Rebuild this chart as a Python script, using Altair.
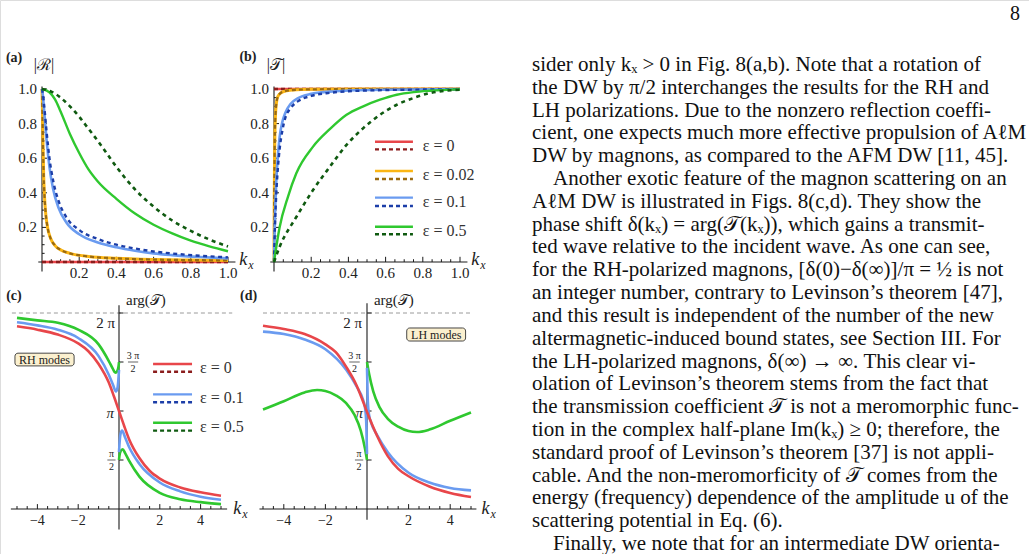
import altair as alt
import pandas as pd

SERIF = "Liberation Serif"

# ---------------- colours ----------------
RED, DRED = "#e8464a", "#8b1d1d"
YEL, BRN = "#fbb615", "#9a6a10"
BLU, DBLU = "#6a9bf0", "#1c3ea8"
GRN, DGRN = "#2fc82f", "#0f5a10"

# ---------------- panel (a): |R| ----------------
A_RED_K = [0.0, 1.0]
A_RED_V = [0.0, 0.0]
A_YEL_K = [0, 0.002, 0.005, 0.009, 0.014, 0.02, 0.03, 0.045, 0.07, 0.1, 0.15, 0.25, 0.4, 0.6, 0.8, 1.0]
A_YEL_V = [1.0, 0.9, 0.7, 0.5, 0.37, 0.28, 0.2, 0.14, 0.095, 0.07, 0.05, 0.032, 0.021, 0.014, 0.011, 0.009]
A_BLU_K = [0, 0.005, 0.012, 0.025, 0.04, 0.06, 0.09, 0.13, 0.2, 0.3, 0.4, 0.5, 0.6, 0.7, 0.85, 1.0]
A_BLU_V = [1.0, 0.96, 0.87, 0.7, 0.55, 0.42, 0.31, 0.23, 0.16, 0.113, 0.085, 0.065, 0.05, 0.04, 0.029, 0.021]
A_DBLU_V = [1.0, 0.97, 0.9, 0.75, 0.6, 0.47, 0.35, 0.26, 0.185, 0.133, 0.1, 0.078, 0.061, 0.049, 0.036, 0.027]
A_GRN_K = [0, 0.04, 0.07, 0.1, 0.15, 0.2, 0.25, 0.3, 0.4, 0.5, 0.6, 0.7, 0.8, 0.9, 1.0]
A_GRN_V = [1.0, 0.98, 0.94, 0.87, 0.74, 0.63, 0.535, 0.465, 0.365, 0.28, 0.215, 0.165, 0.123, 0.09, 0.062]
A_DGRN_K = [0, 0.05, 0.1, 0.15, 0.2, 0.25, 0.3, 0.35, 0.4, 0.5, 0.6, 0.7, 0.8, 0.9, 1.0]
A_DGRN_V = [1.0, 0.985, 0.95, 0.9, 0.84, 0.77, 0.7, 0.625, 0.55, 0.42, 0.32, 0.24, 0.18, 0.13, 0.09]

# ---------------- panel (b): |T| ----------------
B_RED_K = [0.0, 1.0]
B_RED_V = [1.0, 1.0]
B_YEL_K = [0, 0.001, 0.003, 0.005, 0.008, 0.012, 0.02, 0.035, 0.06, 0.1, 0.2, 0.5, 1.0]
B_YEL_V = [0, 0.3, 0.6, 0.75, 0.85, 0.91, 0.955, 0.976, 0.988, 0.994, 0.998, 1.0, 1.0]
B_BLU_K = [0, 0.005, 0.0125, 0.02, 0.03, 0.045, 0.06, 0.09, 0.13, 0.2, 0.3, 0.4, 0.6, 1.0]
B_BLU_V = [0, 0.25, 0.47, 0.6, 0.72, 0.81, 0.86, 0.915, 0.948, 0.972, 0.985, 0.991, 0.996, 0.999]
B_DBLU_V = [0, 0.2, 0.4, 0.53, 0.65, 0.76, 0.83, 0.89, 0.93, 0.96, 0.978, 0.987, 0.994, 0.998]
B_GRN_K = [0, 0.03, 0.075, 0.12, 0.21, 0.3, 0.39, 0.48, 0.57, 0.66, 0.75, 0.84, 1.0]
B_GRN_V = [0, 0.2, 0.377, 0.513, 0.667, 0.768, 0.851, 0.9, 0.938, 0.967, 0.982, 0.99, 0.998]
B_DGRN_K = [0, 0.03, 0.12, 0.21, 0.3, 0.39, 0.48, 0.57, 0.66, 0.75, 0.84, 1.0]
B_DGRN_V = [0, 0.087, 0.26, 0.416, 0.55, 0.677, 0.774, 0.851, 0.909, 0.948, 0.977, 0.996]

# ---------------- panel (c): arg(T), RH modes (units of pi) ----------------
C_RED_K = [-5, -4, -3, -2, -1.5, -1, -0.5, -0.25, 0, 0.25, 0.5, 1, 1.5, 2, 3, 4, 5]
C_RED_V = [1.864, 1.83, 1.78, 1.69, 1.61, 1.48, 1.29, 1.15, 1.0, 0.85, 0.71, 0.52, 0.39, 0.31, 0.22, 0.17, 0.136]
C_BLU_LK = [-5, -4, -3, -2, -1, -0.5, -0.3, -0.15, -0.07, -0.02, 0]
C_BLU_LV = [1.905, 1.874, 1.83, 1.745, 1.56, 1.37, 1.27, 1.2, 1.24, 1.35, 1.42]
C_BLU_RK = [0, 0.02, 0.07, 0.15, 0.3, 0.5, 1, 2, 3, 4, 5]
C_BLU_RV = [0.58, 0.65, 0.76, 0.8, 0.73, 0.63, 0.46, 0.27, 0.18, 0.126, 0.095]
C_GRN_LK = [-5, -4, -3, -2, -1, -0.5, -0.3, -0.18, -0.08, -0.02, 0]
C_GRN_LV = [1.95, 1.925, 1.9, 1.83, 1.68, 1.51, 1.43, 1.39, 1.41, 1.46, 1.5]
C_GRN_RK = [0, 0.02, 0.08, 0.18, 0.3, 0.5, 1, 2, 3, 4, 5]
C_GRN_RV = [0.5, 0.54, 0.59, 0.61, 0.57, 0.49, 0.33, 0.165, 0.1, 0.07, 0.05]

# ---------------- panel (d): arg(T), LH modes (units of pi) ----------------
D_RED_K = [-5, -4, -3, -2, -1.5, -1, -0.5, -0.25, 0, 0.25, 0.5, 1, 1.5, 2, 3, 4, 5]
D_RED_V = [1.87, 1.836, 1.785, 1.68, 1.6, 1.45, 1.26, 1.13, 0.99, 0.86, 0.74, 0.54, 0.41, 0.334, 0.23, 0.164, 0.123]
D_BLU_LK = [-5, -4, -3, -2, -1, -0.5, -0.2, -0.1, -0.04, -0.015, 0]
D_BLU_LV = [1.81, 1.785, 1.73, 1.63, 1.42, 1.25, 1.12, 1.04, 0.9, 0.7, 0.56]
D_BLU_RK = [0, 0.015, 0.04, 0.1, 0.2, 0.5, 1, 2, 3, 4, 5]
D_BLU_RV = [1.44, 1.3, 1.1, 0.96, 0.88, 0.75, 0.58, 0.37, 0.27, 0.215, 0.19]
D_GRN_LK = [-5, -4, -3, -2.4, -2, -1.5, -1, -0.6, -0.3, -0.1, 0]
D_GRN_LV = [1.015, 1.1, 1.19, 1.215, 1.205, 1.16, 1.08, 0.96, 0.8, 0.62, 0.5]
D_GRN_RK = [0, 0.1, 0.3, 0.6, 1, 1.5, 2, 2.4, 3, 4, 5]
D_GRN_RV = [1.5, 1.38, 1.2, 1.04, 0.92, 0.84, 0.795, 0.785, 0.81, 0.9, 0.985]

# ---------------- ticks & labels ----------------
AB_TICKS = [0.2, 0.4, 0.6, 0.8, 1.0]
AB_TICK_LABELS = ["0.2", "0.4", "0.6", "0.8", "1.0"]
AB_MINOR = [0.05, 0.1, 0.15, 0.25, 0.3, 0.35, 0.45, 0.5, 0.55, 0.65, 0.7, 0.75, 0.85, 0.9, 0.95]
CD_X_TICKS = [-4, -2, 2, 4]
CD_X_LABELS = ["\u22124", "\u22122", "2", "4"]
CD_X_MINOR = [-5, -4.5, -3.5, -3, -2.5, -1.5, -1, -0.5, 0.5, 1, 1.5, 2.5, 3, 3.5, 4.5, 5]
CD_Y_TICKS = [0.5, 1.0, 1.5, 2.0]

LEG_AB = ["\u03b5 = 0", "\u03b5 = 0.02", "\u03b5 = 0.1", "\u03b5 = 0.5"]
LEG_CD = ["\u03b5 = 0", "\u03b5 = 0.1", "\u03b5 = 0.5"]

BODY_LINES = [
    "sider only k\u2093 > 0 in Fig. 8(a,b). Note that a rotation of",
    "the DW by \u03c0/2 interchanges the results for the RH and",
    "LH polarizations. Due to the nonzero reflection coeffi-",
    "cient, one expects much more effective propulsion of A\u2113M",
    "DW by magnons, as compared to the AFM DW [11, 45].",
    "Another exotic feature of the magnon scattering on an",
    "A\u2113M DW is illustrated in Figs. 8(c,d). They show the",
    "phase shift \u03b4(k\u2093) = arg(\U0001D4AF(k\u2093)), which gains a transmit-",
    "ted wave relative to the incident wave. As one can see,",
    "for the RH-polarized magnons, [\u03b4(0)\u2212\u03b4(\u221e)]/\u03c0 = \u00bd is not",
    "an integer number, contrary to Levinson\u2019s theorem [47],",
    "and this result is independent of the number of the new",
    "altermagnetic-induced bound states, see Section III. For",
    "the LH-polarized magnons, \u03b4(\u221e) \u2192 \u221e. This clear vi-",
    "olation of Levinson\u2019s theorem stems from the fact that",
    "the transmission coefficient \U0001D4AF is not a meromorphic func-",
    "tion in the complex half-plane Im(k\u2093) \u2265 0; therefore, the",
    "standard proof of Levinson\u2019s theorem [37] is not appli-",
    "cable. And the non-meromorficity of \U0001D4AF comes from the",
    "energy (frequency) dependence of the amplitude u of the",
    "scattering potential in Eq. (6).",
    "Finally, we note that for an intermediate DW orienta-",
]
INDENTED = [6, 22]


# ---------------- helpers ----------------
def mk_scale(dom, rng):
    return alt.Scale(domain=dom, range=rng, nice=False, zero=False)


def curve(k, v, xs, ys, color, width=2.4, dash=None):
    df = pd.DataFrame({"k": k, "v": v})
    props = dict(color=color, strokeWidth=width, interpolate="monotone")
    if dash is not None:
        props["strokeDash"] = dash
    return alt.Chart(df).mark_line(**props).encode(
        x=alt.X("k:Q", scale=xs, axis=None),
        y=alt.Y("v:Q", scale=ys, axis=None),
    )


def segs(rows, xs, ys, color="#1a1a1a", width=1.0, dash=None):
    df = pd.DataFrame(rows, columns=["x1", "x2", "y1", "y2"])
    props = dict(color=color, strokeWidth=width)
    if dash is not None:
        props["strokeDash"] = dash
    return alt.Chart(df).mark_rule(**props).encode(
        x=alt.X("x1:Q", scale=xs, axis=None), x2="x2:Q",
        y=alt.Y("y1:Q", scale=ys, axis=None), y2="y2:Q",
    )


def labels(xv, yv, tv, xs, ys, **props):
    df = pd.DataFrame({"x": xv, "y": yv, "t": tv})
    base = dict(font=SERIF, color="#222", baseline="middle", fontSize=15)
    base.update(props)
    return alt.Chart(df).mark_text(**base).encode(
        x=alt.X("x:Q", scale=xs, axis=None),
        y=alt.Y("y:Q", scale=ys, axis=None),
        text="t:N",
    )


def box(x1, x2, y1, y2, xs, ys):
    df = pd.DataFrame({"x1": [x1], "x2": [x2], "y1": [y1], "y2": [y2]})
    return alt.Chart(df).mark_rect(fill="#fbf0cf", stroke="#333", strokeWidth=0.9,
                                   cornerRadius=3).encode(
        x=alt.X("x1:Q", scale=xs, axis=None), x2="x2:Q",
        y=alt.Y("y1:Q", scale=ys, axis=None), y2="y2:Q",
    )


def kx_label(k0, v0, xs, ys, dy=-2):
    return [
        labels([k0], [v0], ["k"], xs, ys, fontStyle="italic", fontSize=18, align="left", dy=dy),
        labels([k0], [v0], ["x"], xs, ys, fontStyle="italic", fontSize=12, align="left", dx=9, dy=dy + 5),
    ]


def ab_frame(xs, ys):
    lay = [
        segs([[-0.02, 1.04, 0, 0], [0, 0, -0.055, 1.015]], xs, ys, width=1.1),
        segs([[t, t, 0, 0.03] for t in AB_TICKS] + [[t, t, 0, 0.016] for t in AB_MINOR], xs, ys),
        segs([[0, 0.027, t, t] for t in AB_TICKS] + [[0, 0.014, t, t] for t in AB_MINOR], xs, ys),
        labels(AB_TICKS, [0] * 5, AB_TICK_LABELS, xs, ys, align="center", dy=11),
        labels([0] * 5, AB_TICKS, AB_TICK_LABELS, xs, ys, align="right", dx=-5),
    ]
    lay += kx_label(1.06, 0, xs, ys)
    return lay


def cd_frame(xs, ys, xlo, xhi, ytop, ybot, dlo, dhi):
    lay = [
        segs([[dlo, dhi, 2.0, 2.0]], xs, ys, color="#9a9a9a", width=1.0, dash=[4, 3]),
        segs([[xlo, xhi, 0, 0], [0, 0, ybot, ytop]], xs, ys, width=1.1),
        segs([[t, t, 0, 0.05] for t in CD_X_TICKS] + [[t, t, 0, 0.03] for t in CD_X_MINOR], xs, ys),
        segs([[0, 0.22, t, t] for t in CD_Y_TICKS], xs, ys),
        labels(CD_X_TICKS, [0] * 4, CD_X_LABELS, xs, ys, align="center", dy=12, fontSize=14),
    ]
    return lay


def fraction(kc, v, num, xs, ys, half=0.25):
    return [
        labels([kc], [v], [num], xs, ys, align="center", fontSize=10, dy=-6),
        labels([kc], [v], ["2"], xs, ys, align="center", fontSize=10, dy=7),
        segs([[kc - half, kc + half, v, v]], xs, ys, color="#222", width=0.7),
    ]


def legend(xs, ys, x1, x2, xl, rows, names, fs=16):
    lay = []
    for (vs, vd, vl, c1, c2), name in zip(rows, names):
        lay.append(segs([[x1, x2, vs, vs]], xs, ys, color=c1, width=2.4))
        lay.append(segs([[x1, x2, vd, vd]], xs, ys, color=c2, width=2.4, dash=[4, 3]))
        lay.append(labels([xl], [vl], [name], xs, ys, align="left", fontSize=fs, color="#333"))
    return lay


# ---------------- panel (a) ----------------
AX = mk_scale([0, 1], [42, 228])
AY = mk_scale([0, 1], [262, 89])
pa = ab_frame(AX, AY)
pa += [
    curve(A_RED_K, A_RED_V, AX, AY, RED), curve(A_RED_K, A_RED_V, AX, AY, DRED, dash=[4, 3]),
    curve(A_YEL_K, A_YEL_V, AX, AY, YEL, width=3), curve(A_YEL_K, A_YEL_V, AX, AY, BRN, width=2.2, dash=[4, 3]),
    curve(A_BLU_K, A_BLU_V, AX, AY, BLU, width=2.6), curve(A_BLU_K, A_DBLU_V, AX, AY, DBLU, width=2.4, dash=[4, 3.5]),
    curve(A_GRN_K, A_GRN_V, AX, AY, GRN, width=2.4), curve(A_DGRN_K, A_DGRN_V, AX, AY, DGRN, width=2.6, dash=[4, 4]),
    labels([-0.15], [1.18], ["(a)"], AX, AY, fontWeight="bold", fontSize=14, align="center"),
    labels([0.011], [1.14], ["|\u211b|"], AX, AY, fontSize=16, align="center"),
]
panel_a = alt.layer(*pa)

# ---------------- panel (b) ----------------
BX = mk_scale([0, 1], [274, 460])
BY = mk_scale([0, 1], [262, 89])
pb = ab_frame(BX, BY)
pb += [
    curve(B_RED_K, B_RED_V, BX, BY, RED), curve(B_RED_K, B_RED_V, BX, BY, DRED, dash=[4, 3]),
    curve(B_YEL_K, B_YEL_V, BX, BY, YEL, width=3), curve(B_YEL_K, B_YEL_V, BX, BY, BRN, width=2.2, dash=[4, 3]),
    curve(B_BLU_K, B_BLU_V, BX, BY, BLU, width=2.6), curve(B_BLU_K, B_DBLU_V, BX, BY, DBLU, width=2.4, dash=[4, 3.5]),
    curve(B_GRN_K, B_GRN_V, BX, BY, GRN, width=2.4), curve(B_DGRN_K, B_DGRN_V, BX, BY, DGRN, width=2.6, dash=[4, 4]),
    labels([-0.14], [1.185], ["(b)"], BX, BY, fontWeight="bold", fontSize=14, align="center"),
    labels([0.011], [1.14], ["|\U0001D4AF|"], BX, BY, fontSize=16, align="center"),
]
pb += legend(BX, BY, 0.543, 0.747, 0.80,
             [(0.695, 0.651, 0.673, RED, DRED), (0.526, 0.48, 0.503, YEL, BRN),
              (0.372, 0.324, 0.348, BLU, DBLU), (0.204, 0.16, 0.182, GRN, DGRN)], LEG_AB)
panel_b = alt.layer(*pb)

# ---------------- panel (c) ----------------
CX = mk_scale([-5, 5], [17, 221])
CY = mk_scale([0, 2], [509, 313])
pc = cd_frame(CX, CY, -5.3, 5.3, 2.08, -0.21, -5.25, 5.55)
pc += [
    labels([0], [2.0], ["2 \u03c0"], CX, CY, align="right", dx=-4, dy=10),
    labels([0], [1.0], ["\u03c0"], CX, CY, align="right", dx=-5, dy=2, fontStyle="italic"),
]
pc += fraction(0.69, 1.5, "3 \u03c0", CX, CY)
pc += fraction(-0.37, 0.5, "\u03c0", CX, CY, half=0.2)
pc += [
    curve(C_GRN_LK, C_GRN_LV, CX, CY, GRN, width=2.6), curve(C_GRN_RK, C_GRN_RV, CX, CY, GRN, width=2.6),
    curve(C_BLU_LK, C_BLU_LV, CX, CY, BLU, width=2.6), curve(C_BLU_RK, C_BLU_RV, CX, CY, BLU, width=2.6),
    curve(C_RED_K, C_RED_V, CX, CY, RED, width=2.6),
    box(-5.1, -2.2, 1.59, 1.46, CX, CY),
    labels([-3.65], [1.525], ["RH modes"], CX, CY, align="center", fontSize=12),
    labels([-5.15], [2.17], ["(c)"], CX, CY, fontWeight="bold", fontSize=14, align="center"),
    labels([1.32], [2.13], ["arg(\U0001D4AF)"], CX, CY, fontSize=15, align="center"),
]
pc += kx_label(5.6, 0, CX, CY, dy=0)
pc += legend(CX, CY, 1.67, 3.58, 3.97,
             [(1.48, 1.40, 1.44, RED, DRED), (1.17, 1.09, 1.13, BLU, DBLU), (0.88, 0.80, 0.84, GRN, DGRN)],
             LEG_CD)
panel_c = alt.layer(*pc)

# ---------------- panel (d) ----------------
DX = mk_scale([-5, 5], [263, 471])
DY = mk_scale([0, 2], [509, 313])
pd_ = cd_frame(DX, DY, -5.17, 5.26, 2.1, -0.11, -5.0, 5.0)
pd_ += [
    labels([0], [2.0], ["2 \u03c0"], DX, DY, align="right", dx=-5, dy=10),
    labels([0], [1.0], ["\u03c0"], DX, DY, align="right", dx=-4, dy=2, fontStyle="italic"),
]
pd_ += fraction(-0.6, 1.5, "3 \u03c0", DX, DY)
pd_ += fraction(-0.38, 0.5, "\u03c0", DX, DY, half=0.2)
pd_ += [
    curve(D_GRN_LK, D_GRN_LV, DX, DY, GRN, width=2.6), curve(D_GRN_RK, D_GRN_RV, DX, DY, GRN, width=2.6),
    curve(D_BLU_LK, D_BLU_LV, DX, DY, BLU, width=2.6), curve(D_BLU_RK, D_BLU_RV, DX, DY, BLU, width=2.6),
    curve(D_RED_K, D_RED_V, DX, DY, RED, width=2.6),
    box(1.91, 4.74, 1.847, 1.714, DX, DY),
    labels([3.33], [1.78], ["LH modes"], DX, DY, align="center", fontSize=12),
    labels([-5.69], [2.17], ["(d)"], DX, DY, fontWeight="bold", fontSize=14, align="center"),
    labels([1.29], [2.13], ["arg(\U0001D4AF)"], DX, DY, fontSize=15, align="center"),
]
pd_ += kx_label(5.5, 0, DX, DY, dy=0)
panel_d = alt.layer(*pd_)

# ---------------- body text column ----------------
body_df = pd.DataFrame({
    "line": list(range(1, len(BODY_LINES) + 1)),
    "t": BODY_LINES,
    "indent": [i in INDENTED for i in range(1, len(BODY_LINES) + 1)],
})
LY = mk_scale([1, 22], [65, 544])
body_plain = alt.Chart(body_df).transform_filter("!datum.indent").mark_text(
    font=SERIF, fontSize=21, align="left", baseline="middle", color="#111"
).encode(x=alt.value(532), y=alt.Y("line:Q", scale=LY, axis=None), text="t:N")
body_indent = alt.Chart(body_df).transform_filter("datum.indent").mark_text(
    font=SERIF, fontSize=21, align="left", baseline="middle", color="#111"
).encode(x=alt.value(553), y=alt.Y("line:Q", scale=LY, axis=None), text="t:N")
page_no = alt.Chart(pd.DataFrame({"t": ["8"]})).mark_text(
    font=SERIF, fontSize=20, align="center", baseline="middle", color="#111"
).encode(x=alt.value(1015), y=alt.value(14), text="t:N")
body = alt.layer(body_plain, body_indent, page_no)

chart = (
    alt.layer(panel_a, panel_b, panel_c, panel_d, body)
    .resolve_scale(x="independent", y="independent")
    .properties(width=1029, height=554, padding=0, autosize=alt.AutoSizeParams(type="none"))
    .configure_view(stroke=None)
    .configure(background="white")
)

chart.save("out.html", embed_options={"renderer": "svg", "actions": False})
